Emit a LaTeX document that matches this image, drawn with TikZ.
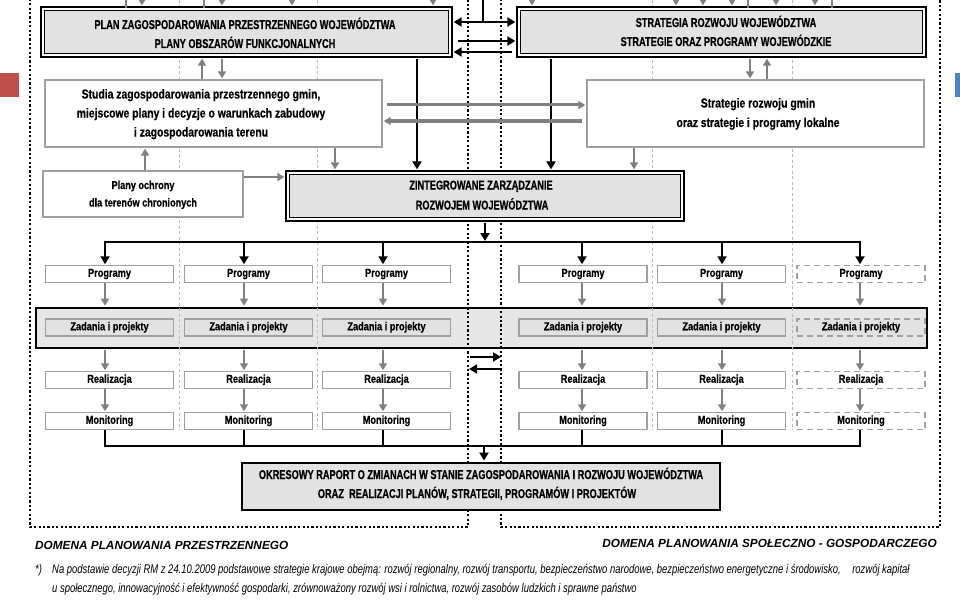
\documentclass[tikz,border=0pt]{standalone}
\usepackage{fontspec}
\setmainfont{Liberation Sans}
\newfontfamily\capf{Liberation Sans}[FakeStretch=0.72, BoldFeatures={FakeBold=0.6}]
\newfontfamily\lowf{Liberation Sans}[FakeStretch=0.80, BoldFeatures={FakeBold=0.5}]
\newfontfamily\footf{Liberation Sans}[FakeStretch=0.75]
\usetikzlibrary{arrows.meta}
\definecolor{boxgray}{HTML}{E2E2E2}
\definecolor{bandgray}{HTML}{E6E6E6}
\definecolor{arrgray}{HTML}{808080}
\definecolor{bordgray}{HTML}{A0A0A0}
\definecolor{faint}{HTML}{BBBBBB}
\definecolor{redsq}{HTML}{C0504D}
\definecolor{bluesq}{HTML}{4F81BD}
\begin{document}
\begin{tikzpicture}[x=1pt,y=-1pt,
  dblbox/.style={draw=black, double=white, line width=1.7pt, double distance=1.8pt, fill=boxgray, inner sep=0},
  gbox/.style={draw=bordgray, line width=1.8pt, fill=white, inner sep=0},
  sbox/.style={draw=bordgray, line width=1.3pt, fill=white, inner sep=0, minimum width=128pt, minimum height=17pt, font=\lowf\bfseries\fontsize{11.5}{13}\selectfont, text height=8pt, text depth=2.5pt},
  zbox/.style={sbox, fill=boxgray},
  dsh/.style={dash pattern=on 6pt off 4pt},
  garr/.style={draw=arrgray, line width=2pt, -{Triangle[width=8pt,length=7pt]}},
  gline/.style={draw=arrgray, line width=2pt},
  barr/.style={draw=black, line width=2.2pt, -{Triangle[width=9pt,length=8pt]}},
  bline/.style={draw=black, line width=2.2pt},
  dom/.style={draw=black, line width=2.2pt, dash pattern=on 2.2pt off 2.2pt},
  capt/.style={inner sep=0, anchor=base, font=\capf\bfseries\fontsize{12.8}{15}\selectfont},
  lowt/.style={inner sep=0, anchor=base, font=\lowf\bfseries\fontsize{13}{15}\selectfont},
  smallt/.style={inner sep=0, anchor=base, font=\lowf\bfseries\fontsize{11.4}{13}\selectfont},
  domt/.style={inner sep=0, font=\bfseries\itshape\fontsize{11.8}{14}\selectfont},
  foott/.style={inner sep=0, anchor=base west, font=\footf\itshape\fontsize{12.6}{14}\selectfont},
]
\useasboundingbox (0,0) rectangle (960,599);
\clip (0,0) rectangle (960,599);
\fill[white] (0,0) rectangle (960,599);
% band of tasks
\node[draw=black, line width=2.4pt, fill=bandgray, minimum width=891pt, minimum height=40pt, inner sep=0] (band) at (481.5,328) {};
% faint column separators
\foreach \x in {179,317,652,792}
  \draw[draw=faint, line width=0.7pt, dash pattern=on 3pt off 2.5pt] (\x,0) -- (\x,430);
% side squares
\fill[redsq] (0,73) rectangle (19,97);
\fill[bluesq] (955,73) rectangle (960,97);
% main boxes
\node[dblbox, minimum width=407.6pt, minimum height=46.6pt] (plan) at (246.5,32) {};
\node[dblbox, minimum width=405.6pt, minimum height=46.6pt] (strat) at (721.5,32) {};
\node[gbox, minimum width=337pt, minimum height=67pt] (studia) at (213.5,113.5) {};
\node[gbox, minimum width=337pt, minimum height=67pt] (sgmin) at (755.5,113.5) {};
\node[gbox, minimum width=200pt, minimum height=46pt] (ochr) at (143,194) {};
% column boxes
\foreach \i/\x in {1/109.5,2/248.5,3/386.5,4/583,5/721.5} {
  \node[sbox] (prog\i) at (\x,274) {Programy};
  \node[zbox] (zad\i) at (\x,327.5) {Zadania i projekty};
  \node[sbox] (real\i) at (\x,380) {Realizacja};
  \node[sbox] (mon\i) at (\x,421) {Monitoring};
}
\node[sbox, dsh] (prog6) at (861,274) {Programy};
\node[zbox, dsh] (zad6) at (861,327.5) {Zadania i projekty};
\node[sbox, dsh] (real6) at (861,380) {Realizacja};
\node[sbox, dsh] (mon6) at (861,421) {Monitoring};
% domains
\draw[dom] (30,-10) rectangle (468,527);
\draw[dom] (501,-10) rectangle (940,527);
% integrated management box (over the domain borders)
\node[dblbox, minimum width=394.6pt, minimum height=46.6pt] (zint) at (485,196) {};
% column coordinates
\foreach \i/\x in {1/105,2/244,3/383,4/582,5/722,6/860}
  \coordinate (k\i) at (\x,242);
\coordinate (hl) at (485,242);
\coordinate (hb) at (484,446);
% top stubs
\foreach \x in {142,222,292,433}
  \draw[garr, shorten >=2.5pt] (\x,-4) -- (\x,0 |- plan.north);
\foreach \x in {126,204}
  \draw[gline] (\x,-4) -- (\x,0 |- plan.north);
\foreach \x in {532,676,703,732,776,815}
  \draw[garr, shorten >=2.5pt] (\x,-4) -- (\x,0 |- strat.north);
\foreach \x in {748,832}
  \draw[gline] (\x,-4) -- (\x,0 |- strat.north);
% top black arrows
\coordinate (tb) at (483,-5);
\coordinate (tj) at (483,22);
\coordinate (a1) at (458,41);
\coordinate (a2) at (512,52);
\draw[bline, line width=2.6pt] (tb) -- (tj);
\draw[draw=black, line width=2.6pt, {Triangle[width=9pt,length=8pt]}-{Triangle[width=9pt,length=8pt]}, shorten <=2.5pt, shorten >=2.5pt] (plan.east |- tj) -- (strat.west |- tj);
\draw[barr, line width=2.6pt, shorten >=2.5pt] (a1) -- (strat.west |- a1);
\draw[barr, line width=2.6pt, shorten >=2.5pt] (a2) -- (plan.east |- a2);
\draw[barr, shorten <=2.7pt, shorten >=2.5pt] (417,0 |- plan.south) -- (417,0 |- zint.north);
\draw[barr, shorten <=2.7pt, shorten >=2.5pt] (551,0 |- strat.south) -- (551,0 |- zint.north);
% grey arrows between boxes
\draw[garr, shorten >=2.5pt] (202,0 |- studia.north) -- (202,0 |- plan.south);
\draw[garr, shorten <=2.7pt, shorten >=0.8pt] (222,0 |- plan.south) -- (222,0 |- studia.north);
\draw[garr, shorten <=2.7pt, shorten >=0.8pt] (750,0 |- strat.south) -- (750,0 |- sgmin.north);
\draw[garr, shorten >=2.5pt] (767,0 |- sgmin.north) -- (767,0 |- strat.south);
\draw[garr, line width=3pt, shorten <=4pt, shorten >=0.8pt] (studia.east |- 0,105) -- (sgmin.west |- 0,105);
\draw[garr, line width=3pt, shorten <=4pt, shorten >=0.8pt] (sgmin.west |- 0,121) -- (studia.east |- 0,121);
\draw[garr, shorten >=0.8pt] (145,0 |- ochr.north) -- (145,0 |- studia.south);
\draw[garr, shorten >=2.5pt] (335,0 |- studia.south) -- (335,0 |- zint.north);
\draw[garr, shorten >=2.5pt] (634,0 |- sgmin.south) -- (634,0 |- zint.north);
\draw[garr, shorten >=2.5pt] (ochr.east |- 0,177) -- (zint.west |- 0,177);
% distribution to programmes
\draw[barr, shorten <=2.7pt, shorten >=1pt] (zint.south) -- (hl);
\draw[draw=black, line width=2.2pt, line join=miter, {Triangle[width=9pt,length=8pt]}-{Triangle[width=9pt,length=8pt]}, shorten <=0.6pt, shorten >=0.6pt] (k1 |- prog1.north) -- (k1) -- (k6) -- (k6 |- prog6.north);
\foreach \i in {2,3,4,5}
  \draw[barr, shorten >=0.6pt] (k\i) -- (k\i |- prog\i.north);
% grey column arrows
\foreach \i in {1,...,6} {
  \draw[garr, shorten >=1.2pt] (k\i |- prog\i.south) -- (k\i |- band.north);
  \draw[garr, shorten <=1.2pt, shorten >=0.6pt] (k\i |- band.south) -- (k\i |- real\i.north);
  \draw[garr, shorten >=0.6pt] (k\i |- real\i.south) -- (k\i |- mon\i.north);
}
% exchange arrows between domains
\coordinate (mL1) at (470,357);
\coordinate (mR1) at (501,357);
\coordinate (mR2) at (500,369);
\coordinate (mL2) at (469,369);
\draw[barr, line width=1.8pt] (mL1) -- (mR1);
\draw[barr, line width=1.8pt] (mR2) -- (mL2);
% collection to report
\draw[bline, line join=miter] (k1 |- mon1.south) -- (k1 |- hb) -- (k6 |- hb) -- (k6 |- mon6.south);
\foreach \i in {2,3,4,5}
  \draw[bline] (k\i |- mon\i.south) -- (k\i |- hb);
% report box
\node[draw=black, line width=2.4pt, fill=boxgray, minimum width=478pt, minimum height=47pt, inner sep=0] (rap) at (481,486.5) {};
\draw[barr, shorten >=1.2pt] (hb) -- (hb |- rap.north);
% texts
\node[capt] (planA) at (245,29) {PLAN ZAGOSPODAROWANIA PRZESTRZENNEGO WOJEWÓDZTWA};
\node[capt] (planB) at (245,48) {PLANY OBSZARÓW FUNKCJONALNYCH};
\node[capt] (stratA) at (726,27) {STRATEGIA ROZWOJU WOJEWÓDZTWA};
\node[capt] (stratB) at (726,46) {STRATEGIE ORAZ PROGRAMY WOJEWÓDZKIE};
\node[lowt] (studA) at (201,98.5) {Studia zagospodarowania przestrzennego gmin,};
\node[lowt] (studB) at (201,117.5) {miejscowe plany i decyzje o warunkach zabudowy};
\node[lowt] (studC) at (201,136.5) {i zagospodarowania terenu};
\node[lowt] (sgA) at (758,107.5) {Strategie rozwoju gmin};
\node[lowt] (sgB) at (758,127) {oraz strategie i programy lokalne};
\node[smallt] (ochA) at (143,189) {Plany ochrony};
\node[smallt] (ochB) at (143,206.5) {dla terenów chronionych};
\node[capt] (zintA) at (481,189.5) {ZINTEGROWANE ZARZĄDZANIE};
\node[capt] (zintB) at (482,209.5) {ROZWOJEM WOJEWÓDZTWA};
\node[capt] (rapA) at (481,479) {OKRESOWY RAPORT O ZMIANACH W STANIE ZAGOSPODAROWANIA I ROZWOJU WOJEWÓDZTWA};
\node[capt] (rapB) at (477,498) {ORAZ~~REALIZACJI PLANÓW, STRATEGII, PROGRAMÓW I PROJEKTÓW};
\node[domt, anchor=base west] (domL) at (35,549) {DOMENA PLANOWANIA PRZESTRZENNEGO};
\node[domt, anchor=base east] (domR) at (937,547) {DOMENA PLANOWANIA SPOŁECZNO - GOSPODARCZEGO};
\node[foott] (fA) at (35,573) {*)};
\node[foott] (f1) at (52,573) {Na podstawie decyzji RM z 24.10.2009 podstawowe strategie krajowe obejmą: rozwój regionalny, rozwój transportu, bezpieczeństwo narodowe, bezpieczeństwo energetyczne i środowisko,\hspace{9pt} rozwój kapitał};
\node[foott] (f2) at (52,592) {u społecznego, innowacyjność i efektywność gospodarki, zrównoważony rozwój wsi i rolnictwa, rozwój zasobów ludzkich i sprawne państwo};
\end{tikzpicture}
\end{document}
